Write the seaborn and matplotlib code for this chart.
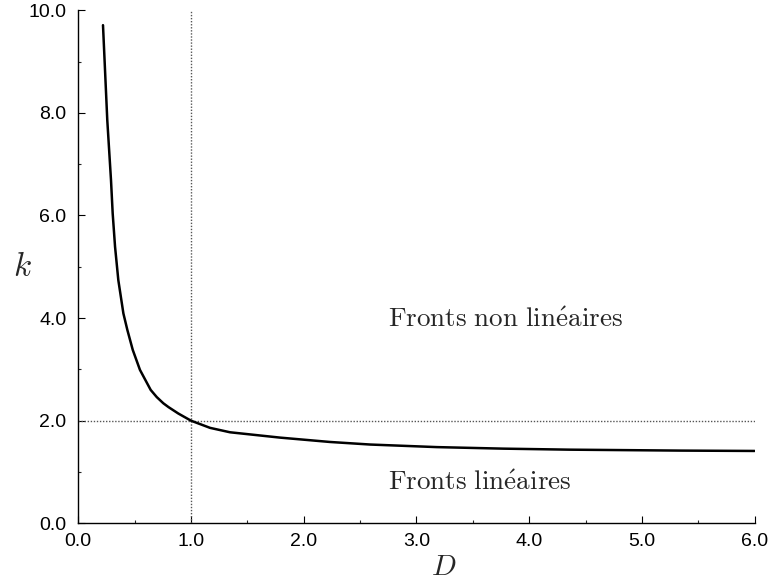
import matplotlib
matplotlib.use("Agg")
import matplotlib.pyplot as plt
import seaborn as sns
import pandas as pd
from matplotlib.ticker import MultipleLocator, FormatStrFormatter

# Data
D_values = [0.219, 0.257, 0.290, 0.305, 0.326, 0.355, 0.400, 0.435, 0.483, 0.547,
            0.642, 0.696, 0.754, 0.800, 0.887, 1.0, 1.169, 1.346, 1.79, 2.233,
            2.59, 3.18, 3.77, 4.36, 5.34, 6.0]
k_values = [9.71, 7.86, 6.69, 6.04, 5.39, 4.74, 4.09, 3.77, 3.38, 2.99,
            2.60, 2.46, 2.34, 2.265, 2.14, 2.0, 1.86, 1.774, 1.67, 1.585,
            1.535, 1.485, 1.455, 1.435, 1.417, 1.41]
x_ticks = [0.0, 1.0, 2.0, 3.0, 4.0, 5.0, 6.0]
y_ticks = [0.0, 2.0, 4.0, 6.0, 8.0, 10.0]
D_crit = 1.0
k_crit = 2.0
label_upper = r"$\mathrm{Fronts\ non\ lin\acute{e}aires}$"
label_lower = r"$\mathrm{Fronts\ lin\acute{e}aires}$"

sns.set_theme(style="ticks")
plt.rcParams['font.family'] = ['Liberation Sans', 'DejaVu Sans']
plt.rcParams['mathtext.fontset'] = 'cm'

df = pd.DataFrame({"D": D_values, "k": k_values})

fig = plt.figure(figsize=(7.7, 5.85), dpi=100)
ax = fig.add_axes([0.1017, 0.1055, 0.98 - 0.1017, 0.9824 - 0.1055])

ax.axvline(D_crit, color="#555555", linestyle=(0, (1, 1.2)), linewidth=1.0, zorder=1)
ax.axhline(k_crit, color="#555555", linestyle=(0, (1, 1.2)), linewidth=1.0, zorder=1)

sns.lineplot(data=df, x="D", y="k", ax=ax, color="black", linewidth=1.8, zorder=3)

ax.set_xlim(0, 6)
ax.set_ylim(0, 10)
ax.set_xticks(x_ticks)
ax.set_yticks(y_ticks)
ax.xaxis.set_major_formatter(FormatStrFormatter("%.1f"))
ax.yaxis.set_major_formatter(FormatStrFormatter("%.1f"))
ax.xaxis.set_minor_locator(MultipleLocator(0.5))
ax.yaxis.set_minor_locator(MultipleLocator(1.0))
ax.tick_params(which="major", direction="in", length=5, width=0.8, labelsize=14, colors="black")
ax.tick_params(which="minor", direction="in", length=2.5, width=0.8)
ax.tick_params(axis="x", which="major", pad=7)
ax.tick_params(axis="y", which="major", pad=8.5)

for s in ["top", "right"]:
    ax.spines[s].set_visible(False)
for s in ["left", "bottom"]:
    ax.spines[s].set_color("black")
    ax.spines[s].set_linewidth(1.0)

ax.set_xlabel(r"$D$", fontsize=21, va="center", ha="center")
ax.xaxis.set_label_coords(0.54, -0.086)
ax.set_ylabel(r"$k$", fontsize=24, rotation=0, va="center", ha="center")
ax.yaxis.set_label_coords(-0.082, 0.499)

ax.text(2.75, 3.96, label_upper, fontsize=19.5, va="center", ha="left")
ax.text(2.75, 0.78, label_lower, fontsize=19.5, va="center", ha="left")

fig.savefig("out.png", dpi=100)
